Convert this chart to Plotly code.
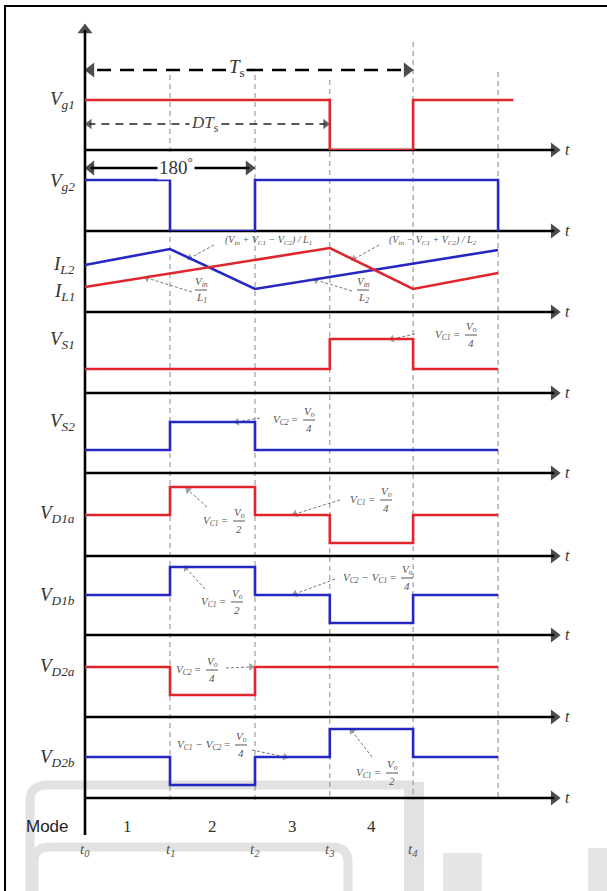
import plotly.graph_objects as go

W, H = 607, 891

# switching instants t0..t4 and end of the period (normalised time)
t_edges = [0, 1.0, 2.0, 2.88, 3.86, 4.86]
vg1_end = 5.04
mode_names = ["1", "2", "3", "4"]
t_names = ["t<sub>0</sub>", "t<sub>1</sub>", "t<sub>2</sub>", "t<sub>3</sub>", "t<sub>4</sub>"]

# gate signals per interval (1 = on), last value = level after the last edge
vg1 = [1, 1, 1, 0, 1, 1]
vg2 = [1, 0, 1, 1, 1, 0]

# inductor currents at the corner points (arbitrary units)
il2_t = [0, 1.0, 2.0, 4.86]
il2 = [4.7, 6.3, 2.3, 6.2]
il1_t = [0, 2.88, 3.86, 4.86]
il1 = [2.5, 6.4, 2.3, 3.9]

# switch / diode voltages per interval, in units of Vo/4
vs1 = [0, 0, 0, 1, 0]
vs2 = [0, 1, 0, 0, 0]
vd1a = [1, 2, 1, 0, 1]
vd1b = [1, 2, 1, 0, 1]
vd2a = [1, 0, 1, 1, 1]
vd2b = [1, 0, 1, 2, 1]

RED = "#e0262c"
BLUE = "#2626c2"
SERIF = "Liberation Serif"


def X(px):
    return (px - 85) / 85.0


fig = go.Figure()
ann = []
shapes = []

# panel bands: axis row, top of band, zero level row, pixels per unit
panels = [
    (150, 40, 150, 50),
    (231, 150, 231, 51),
    (312, 231, 312, 10),
    (393, 312, 369, 30),
    (473, 393, 450, 28),
    (556, 473, 543, 28),
    (635, 556, 623, 28),
    (717, 635, 695, 28),
    (798, 717, 785, 28),
]

layout_axes = {}
for i, (axis_py, top_py, zero_py, step) in enumerate(panels):
    layout_axes["yaxis%d" % (i + 2)] = dict(
        domain=[1 - axis_py / H, 1 - top_py / H],
        range=[(zero_py - axis_py) / step, (zero_py - top_py) / step],
        visible=False, fixedrange=True, anchor="x")


def line(x, y, color="black", width=2.6, dash=None, head=None, size=11):
    # plain line; head = marker symbol drawn on the last point
    kw = dict(x=x, y=y, mode="lines", hoverinfo="skip",
              line=dict(color=color, width=width, dash=dash))
    if head:
        kw["mode"] = "lines+markers"
        kw["marker"] = dict(symbol=head, size=[0] * (len(x) - 1) + [size], color=color,
                            angleref="previous", line=dict(width=0))
    fig.add_trace(go.Scatter(**kw))


# frame
line([X(5), X(5), X(607)], [891, 6, 6], width=2)

# watermark
wm = "#e2e2e2"
shapes.append(dict(type="path", xref="x", yref="y", layer="below",
                   path="M %f,891 L %f,800 Q %f,785 %f,785 L %f,785" % (X(30), X(30), X(30), X(48), X(412)),
                   line=dict(color=wm, width=9)))
shapes.append(dict(type="path", xref="x", yref="y", layer="below",
                   path="M %f,891 L %f,862 Q %f,847 %f,847 L %f,847 Q %f,847 %f,862 L %f,891"
                        % (X(34), X(34), X(34), X(50), X(332), X(348), X(348), X(348)),
                   line=dict(color=wm, width=9)))
shapes.append(dict(type="rect", xref="x", yref="y", layer="below",
                   x0=X(404), x1=X(424), y0=782, y1=891, fillcolor=wm, line_width=0))
shapes.append(dict(type="rect", xref="x", yref="y", layer="below",
                   x0=X(443), x1=X(482), y0=853, y1=891, fillcolor="#e6e6e6", line_width=0))
shapes.append(dict(type="rect", xref="x", yref="y", layer="below",
                   x0=X(588), x1=X(607), y0=848, y1=891, fillcolor="#e6e6e6", line_width=0))

# dashed instants
tops = [75, 75, 80, 42, 72]
for t, top in zip(t_edges[1:], tops):
    line([t, t], [top, 800], color="#8a8a8a", width=1, dash="5px,4px")

# horizontal time axes
for axis_py, _, _, _ in panels:
    line([0, 5.52], [axis_py, axis_py], head="triangle-up", size=13)
    ann.append(dict(x=5.68, y=axis_py - 1, text="<i>t</i>", showarrow=False,
                    font=dict(family=SERIF, size=16, color="#333")))

# vertical axis
line([0, 0], [835, 30], head="triangle-up", size=13)


# waveforms
def step_trace(x, y, color, axis):
    fig.add_trace(go.Scatter(x=x, y=y, mode="lines", line_shape="hv", yaxis=axis,
                             line=dict(color=color, width=2.6), hoverinfo="skip"))


step_trace(t_edges[:5] + [vg1_end], vg1, RED, "y2")
step_trace(t_edges, vg2, BLUE, "y3")
fig.add_trace(go.Scatter(x=il2_t, y=il2, mode="lines", yaxis="y4",
                         line=dict(color=BLUE, width=2.6), hoverinfo="skip"))
fig.add_trace(go.Scatter(x=il1_t, y=il1, mode="lines", yaxis="y4",
                         line=dict(color=RED, width=2.6), hoverinfo="skip"))
for levels, color, axis in [(vs1, RED, "y5"), (vs2, BLUE, "y6"), (vd1a, RED, "y7"),
                            (vd1b, BLUE, "y8"), (vd2a, RED, "y9"), (vd2b, BLUE, "y10")]:
    step_trace(t_edges, levels + [levels[-1]], color, axis)

# dimension arrows
mid4 = t_edges[4] / 2
line([mid4, 0.07], [70, 70], dash="14px,9px", head="triangle-up", size=13)
line([mid4, t_edges[4] - 0.07], [70, 70], dash="14px,9px", head="triangle-up", size=13)
mid3 = t_edges[3] / 2
line([mid3, 0.05], [124, 124], color="#222", width=1.5, dash="8px,6px", head="triangle-up", size=9)
line([mid3, t_edges[3] - 0.05], [124, 124], color="#222", width=1.5, dash="8px,6px",
     head="triangle-up", size=9)
mid2 = t_edges[2] / 2
line([mid2, 0.07], [168, 168], head="triangle-up", size=13)
line([mid2, t_edges[2] - 0.07], [168, 168], head="triangle-up", size=13)
ann.append(dict(x=X(237), y=68, text="<i>T</i><sub>s</sub>", showarrow=False, bgcolor="white",
                font=dict(family=SERIF, size=19, color="#333")))
ann.append(dict(x=X(205), y=124, text="<i>DT</i><sub>s</sub>", showarrow=False, bgcolor="white",
                font=dict(family=SERIF, size=17, color="#444")))
ann.append(dict(x=X(176), y=166, text="180<sup>°</sup>", showarrow=False, bgcolor="white",
                font=dict(family=SERIF, size=19, color="#333")))

# left labels
labels = [("g1", 100), ("g2", 182), ("L2", 265), ("L1", 292), ("S1", 340), ("S2", 422),
          ("D1a", 514), ("D1b", 596), ("D2a", 667), ("D2b", 758)]
for sub, py in labels:
    letter = "I" if sub.startswith("L") else "V"
    ann.append(dict(x=X(77), y=py, xanchor="right", showarrow=False,
                    text="<i>%s<sub>%s</sub></i>" % (letter, sub),
                    font=dict(family=SERIF, size=19, color="#333")))

# mode row and instants
ann.append(dict(x=X(47), y=826, text="Mode", showarrow=False,
                font=dict(family="Liberation Sans", size=17, color="#222")))
for i, name in enumerate(mode_names):
    ann.append(dict(x=(t_edges[i] + t_edges[i + 1]) / 2, y=826, text=name, showarrow=False,
                    font=dict(family=SERIF, size=17, color="#333")))
for t, name in zip(t_edges, t_names):
    ann.append(dict(x=t, y=850, text="<i>%s</i>" % name, showarrow=False,
                    font=dict(family=SERIF, size=15, color="#555")))

# formula callouts
FC = "#555"


def arrow(tail, tip):
    line([X(tail[0]), X(tip[0])], [tail[1], tip[1]], color="#777", width=1,
         dash="3px,2px", head="triangle-up", size=7)


def frac(xc, yc, num, den):
    ann.append(dict(x=X(xc), y=yc - 8, text="<i>%s</i>" % num, showarrow=False,
                    font=dict(family=SERIF, size=11, color=FC)))
    ann.append(dict(x=X(xc), y=yc + 8, text="<i>%s</i>" % den, showarrow=False,
                    font=dict(family=SERIF, size=11, color=FC)))
    shapes.append(dict(type="line", xref="x", yref="y", x0=X(xc - 6), x1=X(xc + 6),
                       y0=yc, y1=yc, line=dict(color=FC, width=1)))


def eq(xr, yc, prefix, num, den):
    ann.append(dict(x=X(xr), y=yc, xanchor="right", text="<i>%s</i> =" % prefix,
                    showarrow=False, font=dict(family=SERIF, size=11, color=FC)))
    frac(xr + 9, yc, num, den)


VO = "V<sub>o</sub>"
ann.append(dict(x=X(268), y=240, showarrow=False,
                text="<i>(V<sub>in</sub> + V<sub>C1</sub> − V<sub>C2</sub>) / L<sub>1</sub></i>",
                font=dict(family=SERIF, size=10, color=FC)))
arrow((214, 245), (190, 258))
ann.append(dict(x=X(433), y=240, showarrow=False,
                text="<i>(V<sub>in</sub> − V<sub>C1</sub> + V<sub>C2</sub>) / L<sub>2</sub></i>",
                font=dict(family=SERIF, size=10, color=FC)))
arrow((379, 245), (354, 259))
frac(201, 290, "V<sub>in</sub>", "L<sub>1</sub>")
arrow((192, 292), (147, 278))
frac(363, 290, "V<sub>in</sub>", "L<sub>2</sub>")
arrow((352, 291), (316, 280))

eq(462, 335, "V<sub>C1</sub>", VO, "4")
arrow((415, 334), (392, 339))
eq(300, 420, "V<sub>C2</sub>", VO, "4")
arrow((260, 418), (237, 422))
eq(230, 521, "V<sub>C1</sub>", VO, "2")
arrow((207, 507), (188, 490))
eq(377, 500, "V<sub>C1</sub>", VO, "4")
arrow((340, 500), (295, 514))
eq(228, 602, "V<sub>C1</sub>", VO, "2")
arrow((205, 589), (186, 568))
eq(398, 578, "V<sub>C2</sub> − V<sub>C1</sub>", VO, "4")
arrow((335, 579), (295, 594))
eq(203, 670, "V<sub>C2</sub>", VO, "4")
arrow((226, 668), (251, 667))
eq(232, 745, "V<sub>C1</sub> − V<sub>C2</sub>", VO, "4")
arrow((252, 750), (285, 757))
eq(383, 773, "V<sub>C1</sub>", VO, "2")
arrow((372, 757), (352, 731))

fig.update_layout(
    width=W, height=H, margin=dict(l=0, r=0, t=0, b=0),
    paper_bgcolor="white", plot_bgcolor="rgba(0,0,0,0)", showlegend=False,
    xaxis=dict(range=[X(0), X(W)], visible=False, fixedrange=True, domain=[0, 1]),
    yaxis=dict(range=[H, 0], visible=False, fixedrange=True, domain=[0, 1]),
    annotations=ann, shapes=shapes,
    **layout_axes,
)
fig.write_html("out.html", config={"displayModeBar": False},
               post_script="document.body.style.margin='0';"
                           "document.body.style.overflow='hidden';")
